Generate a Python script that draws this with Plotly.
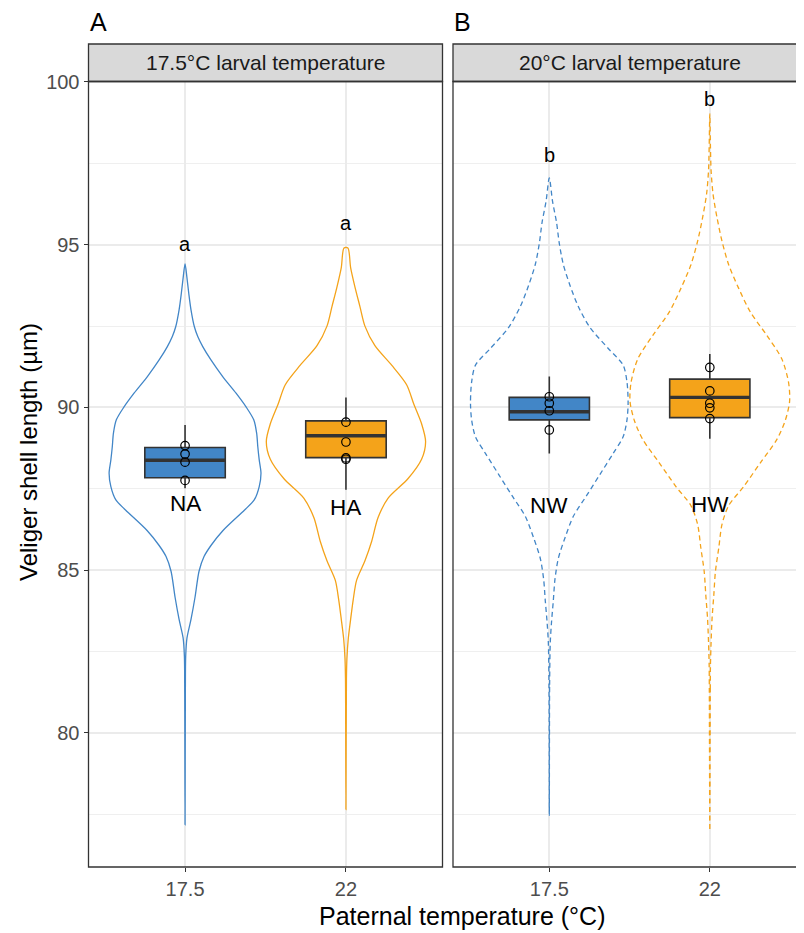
import plotly.graph_objects as go

# ---------------- data ----------------
x_ticks = [1, 2]
x_ticklabels = ["17.5", "22"]
panel_titles = ["17.5°C larval temperature", "20°C larval temperature"]
panel_tags = ["A", "B"]

groups = ["NA", "HA", "NW", "HW"]
group_panel = [0, 0, 1, 1]
group_x = [1, 2, 1, 2]

# violin outlines: y values and half-widths (axis units)
vy_NA = [94.41, 94.02, 93.51, 93.00, 92.48, 92.18, 91.87, 91.46, 90.95, 90.44, 90.02, 89.62, 89.21,
         88.80, 88.39, 87.98, 87.57, 87.16, 86.85, 86.22, 85.76, 85.42, 84.97, 84.17, 83.49, 82.92,
         82.35, 81.22, 77.18]
vw_NA = [0.0, 0.011, 0.023, 0.037, 0.058, 0.079, 0.110, 0.161, 0.234, 0.317, 0.379, 0.427, 0.445,
         0.452, 0.461, 0.472, 0.461, 0.430, 0.370, 0.236, 0.161, 0.118, 0.087, 0.062, 0.037, 0.012,
         0.004, 0.002, 0.0]
vy_HA = [94.90, 94.30, 93.70, 93.10, 92.50, 91.90, 91.30, 90.70, 90.10, 89.50, 88.95, 88.41, 87.81,
         87.21, 86.61, 85.89, 85.29, 84.69, 84.09, 83.49, 82.88, 82.28, 81.68, 77.65]
vw_HA = [0.012, 0.029, 0.056, 0.087, 0.118, 0.180, 0.284, 0.377, 0.422, 0.470, 0.495, 0.470, 0.385,
         0.261, 0.199, 0.160, 0.118, 0.066, 0.045, 0.029, 0.014, 0.006, 0.003, 0.0]
vy_NW = [97.05, 96.34, 95.69, 95.05, 94.40, 93.75, 93.11, 92.46, 91.82, 91.30, 90.78, 90.14, 89.62,
         89.10, 88.59, 87.94, 87.29, 86.65, 86.00, 85.36, 84.71, 84.06, 83.42, 82.77, 81.48, 77.47]
vw_NW = [0.0, 0.020, 0.045, 0.062, 0.087, 0.129, 0.180, 0.253, 0.366, 0.460, 0.484, 0.491, 0.484,
         0.460, 0.398, 0.315, 0.232, 0.149, 0.098, 0.056, 0.035, 0.025, 0.014, 0.006, 0.002, 0.0]
vy_HW = [99.02, 98.01, 97.28, 96.56, 95.83, 95.11, 94.38, 93.66, 92.93, 92.21, 91.49, 90.76, 90.18,
         89.60, 89.02, 88.30, 87.57, 86.99, 86.41, 85.69, 84.96, 84.24, 83.51, 82.79, 82.07, 81.34, 77.00]
vw_HW = [0.0, 0.004, 0.008, 0.020, 0.045, 0.076, 0.118, 0.180, 0.253, 0.356, 0.449, 0.491, 0.497,
         0.470, 0.418, 0.315, 0.211, 0.118, 0.076, 0.056, 0.035, 0.025, 0.014, 0.008, 0.004, 0.003, 0.0]
violin_y = [vy_NA, vy_HA, vy_NW, vy_HW]
violin_w = [vw_NA, vw_HA, vw_NW, vw_HW]

# box statistics
box_lower = [87.52, 87.47, 88.59, 89.04]
box_q1 = [87.84, 88.46, 89.62, 89.69]
box_median = [88.38, 89.13, 89.87, 90.31]
box_q3 = [88.77, 89.59, 90.31, 90.87]
box_upper = [89.46, 90.31, 90.95, 91.64]

# replicate points
pts_NA = [88.83, 88.57, 88.32, 87.76]
pts_HA = [89.55, 88.94, 88.45, 88.41]
pts_NW = [90.33, 90.13, 89.90, 89.31]
pts_HW = [91.23, 90.51, 90.13, 89.99, 89.66]
points = [pts_NA, pts_HA, pts_NW, pts_HW]

letters = ["a", "a", "b", "b"]
letter_y = [95.03, 95.68, 97.76, 99.49]
label_y = [87.05, 86.94, 86.98, 87.03]

# ---------------- style ----------------
BLUE = "#4286C7"
ORANGE = "#F4A31A"
group_color = [BLUE, ORANGE, BLUE, ORANGE]
group_dash = ["solid", "solid", "5px,3.5px", "5px,3.5px"]
FONT = "Liberation Sans, Arial, Helvetica, sans-serif"
W, H = 804, 933
OFF = 8.0  # page offset of the plot div

def fx(px):
    return (px - OFF) / W

def fy(py):
    return (H - (py - OFF)) / H

fig = go.Figure()

for i, g in enumerate(groups):
    xa = "x" if group_panel[i] == 0 else "x2"
    ya = "y" if group_panel[i] == 0 else "y2"
    cx = group_x[i]
    ys = violin_y[i]
    ws = violin_w[i]
    # right side bottom->top
    xr = [cx + w for w in ws][::-1]
    yr = list(ys)[::-1]
    # left side top->bottom (skip the tip if it is a single point)
    start = 1 if ws[0] == 0 else 0
    xl = [cx - w for w in ws][start:]
    yl = list(ys)[start:]
    fig.add_trace(go.Scatter(
        x=xr + xl, y=yr + yl, mode="lines",
        line=dict(color=group_color[i], width=1.3, dash=group_dash[i],
                  shape="spline", smoothing=0.8),
        xaxis=xa, yaxis=ya, hoverinfo="skip", showlegend=False))
    fig.add_trace(go.Box(
        x=[cx], q1=[box_q1[i]], median=[box_median[i]], q3=[box_q3[i]],
        lowerfence=[box_lower[i]], upperfence=[box_upper[i]],
        width=0.5, whiskerwidth=0, fillcolor=group_color[i],
        line=dict(color="#333333", width=1.6), boxpoints=False,
        xaxis=xa, yaxis=ya, showlegend=False, hoverinfo="skip"))
    fig.add_trace(go.Scatter(
        x=[cx - 0.25, cx + 0.25], y=[box_median[i], box_median[i]], mode="lines",
        line=dict(color="#333333", width=3.4), xaxis=xa, yaxis=ya,
        showlegend=False, hoverinfo="skip"))
    fig.add_trace(go.Scatter(
        x=[cx] * len(points[i]), y=points[i], mode="markers",
        marker=dict(symbol="circle-open", size=8.5, color="black", line=dict(width=1.2)),
        xaxis=xa, yaxis=ya, showlegend=False, hoverinfo="skip"))

annotations = []
for i, g in enumerate(groups):
    xa = "x" if group_panel[i] == 0 else "x2"
    ya = "y" if group_panel[i] == 0 else "y2"
    annotations.append(dict(x=group_x[i], y=letter_y[i], xref=xa, yref=ya, text=letters[i],
                            xanchor="center", yanchor="middle", showarrow=False,
                            font=dict(family=FONT, size=20, color="black")))
    annotations.append(dict(x=group_x[i], y=label_y[i], xref=xa, yref=ya, text=g,
                            xanchor="center", yanchor="middle", showarrow=False,
                            font=dict(family=FONT, size=22.5, color="black")))

# panel geometry in page pixels
panels_px = [(88.5, 442.5), (453.0, 812.0)]
strip_centers = [265.5, 629.5]
strip_top, strip_bot = 44.0, 81.5
panel_bot = 867.0

shapes = []
for p, (x0, x1) in enumerate(panels_px):
    shapes.append(dict(type="rect", xref="paper", yref="paper", x0=fx(x0), x1=fx(x1),
                       y0=fy(strip_bot), y1=fy(strip_top), fillcolor="#D9D9D9",
                       line=dict(color="#333333", width=1.3), layer="above"))
    shapes.append(dict(type="rect", xref="paper", yref="paper", x0=fx(x0), x1=fx(x1),
                       y0=fy(panel_bot), y1=fy(strip_bot), fillcolor="rgba(0,0,0,0)",
                       line=dict(color="#333333", width=1.3), layer="above"))
    annotations.append(dict(x=fx(strip_centers[p]), y=fy((strip_top + strip_bot) / 2),
                            xref="paper", yref="paper", xanchor="center", yanchor="middle",
                            text=panel_titles[p], showarrow=False,
                            font=dict(family=FONT, size=21, color="#1A1A1A")))
    annotations.append(dict(x=fx(x0 - 1), y=fy(22), xref="paper", yref="paper",
                            text=panel_tags[p], showarrow=False, xanchor="left", yanchor="middle",
                            font=dict(family=FONT, size=25, color="black")))

annotations.append(dict(x=fx(462), y=fy(916), xref="paper", yref="paper",
                        xanchor="center", yanchor="middle",
                        text="Paternal temperature (°C)", showarrow=False,
                        font=dict(family=FONT, size=25, color="black")))
annotations.append(dict(x=fx(28), y=fy(452), xref="paper", yref="paper",
                        xanchor="center", yanchor="middle",
                        text="Veliger shell length (µm)", showarrow=False, textangle=-90,
                        font=dict(family=FONT, size=24, color="black")))

y_range = [75.883, 100.015]
y_dom = [fy(panel_bot), fy(strip_bot)]
axis_common = dict(showgrid=True, gridcolor="#EBEBEB", gridwidth=1.6, zeroline=False,
                   showline=False, ticks="outside", ticklen=4, tickwidth=1.2,
                   tickcolor="#333333", tickfont=dict(family=FONT, size=20, color="#4D4D4D"))
minor_grid = dict(tickvals=[77.5, 82.5, 87.5, 92.5, 97.5], showgrid=True,
                  gridcolor="#EFEFEF", gridwidth=1.0, ticks="")

fig.update_layout(
    width=W, height=H, margin=dict(l=0, r=0, t=0, b=0, autoexpand=False),
    paper_bgcolor="white", plot_bgcolor="white", showlegend=False,
    xaxis=dict(domain=[fx(88.5), fx(442.5)], range=[0.4, 2.6], tickvals=x_ticks,
               ticktext=x_ticklabels, anchor="y", **axis_common),
    xaxis2=dict(domain=[fx(453.0), 1.0], range=[0.4, 2.6 + (812 - 806.1) / 160.7], tickvals=x_ticks,
                ticktext=x_ticklabels, anchor="y2", **axis_common),
    yaxis=dict(domain=y_dom, range=y_range, tickvals=[80, 85, 90, 95, 100], anchor="x",
               minor=minor_grid, **axis_common),
    yaxis2=dict(domain=y_dom, range=y_range, tickvals=[80, 85, 90, 95, 100], anchor="x2",
                showticklabels=False, showgrid=True, gridcolor="#EBEBEB", gridwidth=1.6,
                zeroline=False, showline=False, ticks="", minor=minor_grid),
    shapes=shapes, annotations=annotations,
)

fig.write_html("out.html")
